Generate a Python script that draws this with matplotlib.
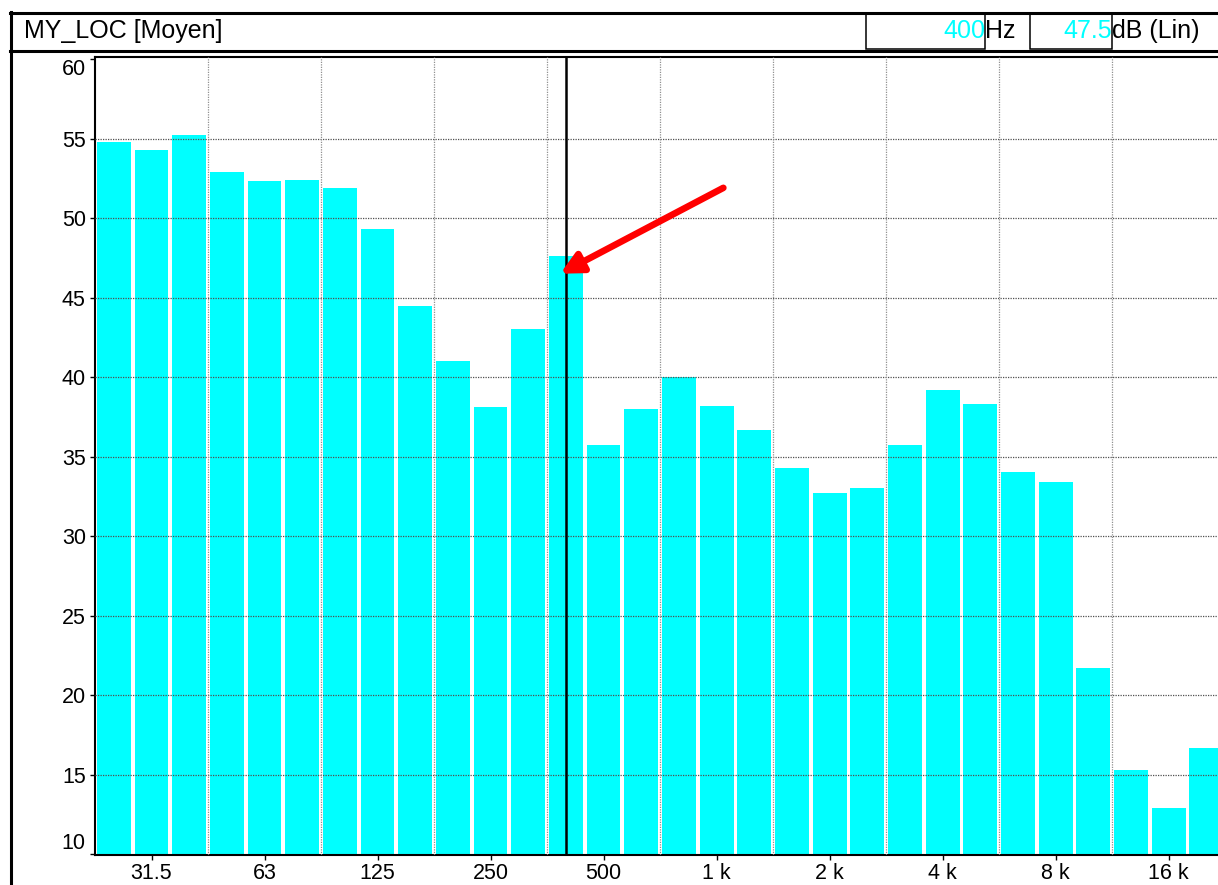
import numpy as np
import matplotlib
matplotlib.use('Agg')
import matplotlib.pyplot as plt
from matplotlib.lines import Line2D
from matplotlib.patches import Rectangle

# third-octave bands, 25 Hz .. 20 kHz
bands = ['25', '31.5', '40', '50', '63', '80', '100', '125', '160', '200',
         '250', '315', '400', '500', '630', '800', '1 k', '1.25 k', '1.6 k', '2 k',
         '2.5 k', '3.15 k', '4 k', '5 k', '6.3 k', '8 k', '10 k', '12.5 k', '16 k', '20 k']
levels = [54.8, 54.3, 55.2, 52.9, 52.3, 52.4, 51.9, 49.3, 44.5, 41.0,
          38.1, 43.0, 47.6, 35.7, 38.0, 40.0, 38.2, 36.7, 34.3, 32.7,
          33.0, 35.7, 39.2, 38.3, 34.0, 33.4, 21.7, 15.3, 12.9, 16.7]
shown_bands = ['31.5', '63', '125', '250', '500', '1 k', '2 k', '4 k', '8 k', '16 k']
yticks = [10, 15, 20, 25, 30, 35, 40, 45, 50, 55, 60]
cursor_band = '400'
cursor_text = '400'
cursor_level = '47.5'
title = 'MY_LOC [Moyen]'

W, H = 1218, 885
FONT = 'Liberation Sans'


def fx(px):
    return px / W


def fy(py):
    return 1 - py / H


def main() -> None:
    fig = plt.figure(figsize=(W / 100, H / 100), dpi=100)
    fig.patch.set_facecolor('white')

    step = 37.67
    ax = fig.add_axes([fx(95), fy(855), 30 * step / W, (855 - 57) / H])
    x = np.arange(len(bands))
    ax.bar(x + 0.05, levels, width=0.9, align='edge', color='#00ffff',
           bottom=0, zorder=1)
    ax.set_xlim(0, 30)
    ax.set_ylim(9.94, 60.13)

    # grid over the bars
    for v in yticks[1:-1]:
        ax.axhline(v, color='#505050', lw=0.9, ls=(0, (1, 1)), zorder=3)
    for b in range(3, 30, 3):
        ax.axvline(b, color='#909090', lw=0.9, ls=(0, (1, 1)), zorder=3)

    # cursor
    ci = bands.index(cursor_band)
    ax.axvline(ci + 0.5, color='black', lw=1.8, zorder=4)

    ax.annotate('', xy=(12.35, 46.5), xytext=(16.68, 51.9),
                arrowprops=dict(arrowstyle='-|>', color='#ff0000', lw=4.8,
                                mutation_scale=32, shrinkA=0, shrinkB=0),
                zorder=5)

    xt = [bands.index(b) + 0.5 for b in shown_bands]
    ax.set_xticks(xt)
    ax.set_xticklabels(shown_bands, fontsize=15.5, family=FONT)
    ax.set_yticks(yticks)
    ax.set_yticklabels([str(v) for v in yticks], fontsize=15.5, family=FONT)
    labs = ax.get_yticklabels()
    labs[-1].set_verticalalignment('top')
    labs[0].set_verticalalignment('bottom')
    ax.tick_params(axis='both', direction='out', length=3.6, width=1,
                   color='black', pad=3)
    ax.tick_params(axis='x', pad=2.5)
    for s in ['left', 'bottom', 'top']:
        ax.spines[s].set_linewidth(1.5)
        ax.spines[s].set_color('black')
    ax.spines['right'].set_visible(False)

    # outer frame and header bar
    lines = [
        ((10, W), (12.5, 12.5), 2.2),
        ((11, 11), (12, H), 2.2),
        ((10, W), (51, 51), 2.2),
    ]
    for (xs, ys, lw) in lines:
        fig.add_artist(Line2D([fx(v) for v in xs], [fy(v) for v in ys],
                              color='black', lw=lw, transform=fig.transFigure))

    fig.text(fx(24), fy(31), title, fontsize=18, family=FONT,
             va='center', ha='left')

    for (x0, x1) in [(866, 985), (1030, 1112)]:
        fig.add_artist(Rectangle((fx(x0), fy(49)), fx(x1) - fx(x0), fy(14) - fy(49),
                                 fill=False, ec='black', lw=1.1,
                                 transform=fig.transFigure))
    fig.text(fx(985), fy(31), cursor_text, fontsize=18, family=FONT,
             color='#00ffff', va='center', ha='right')
    fig.text(fx(985), fy(31), 'Hz', fontsize=18, family=FONT,
             color='black', va='center', ha='left')
    fig.text(fx(1112), fy(31), cursor_level, fontsize=18, family=FONT,
             color='#00ffff', va='center', ha='right')
    fig.text(fx(1112), fy(31), 'dB (Lin)', fontsize=18, family=FONT,
             color='black', va='center', ha='left')

    fig.savefig('out.png', dpi=100)


if __name__ == '__main__':
    main()
